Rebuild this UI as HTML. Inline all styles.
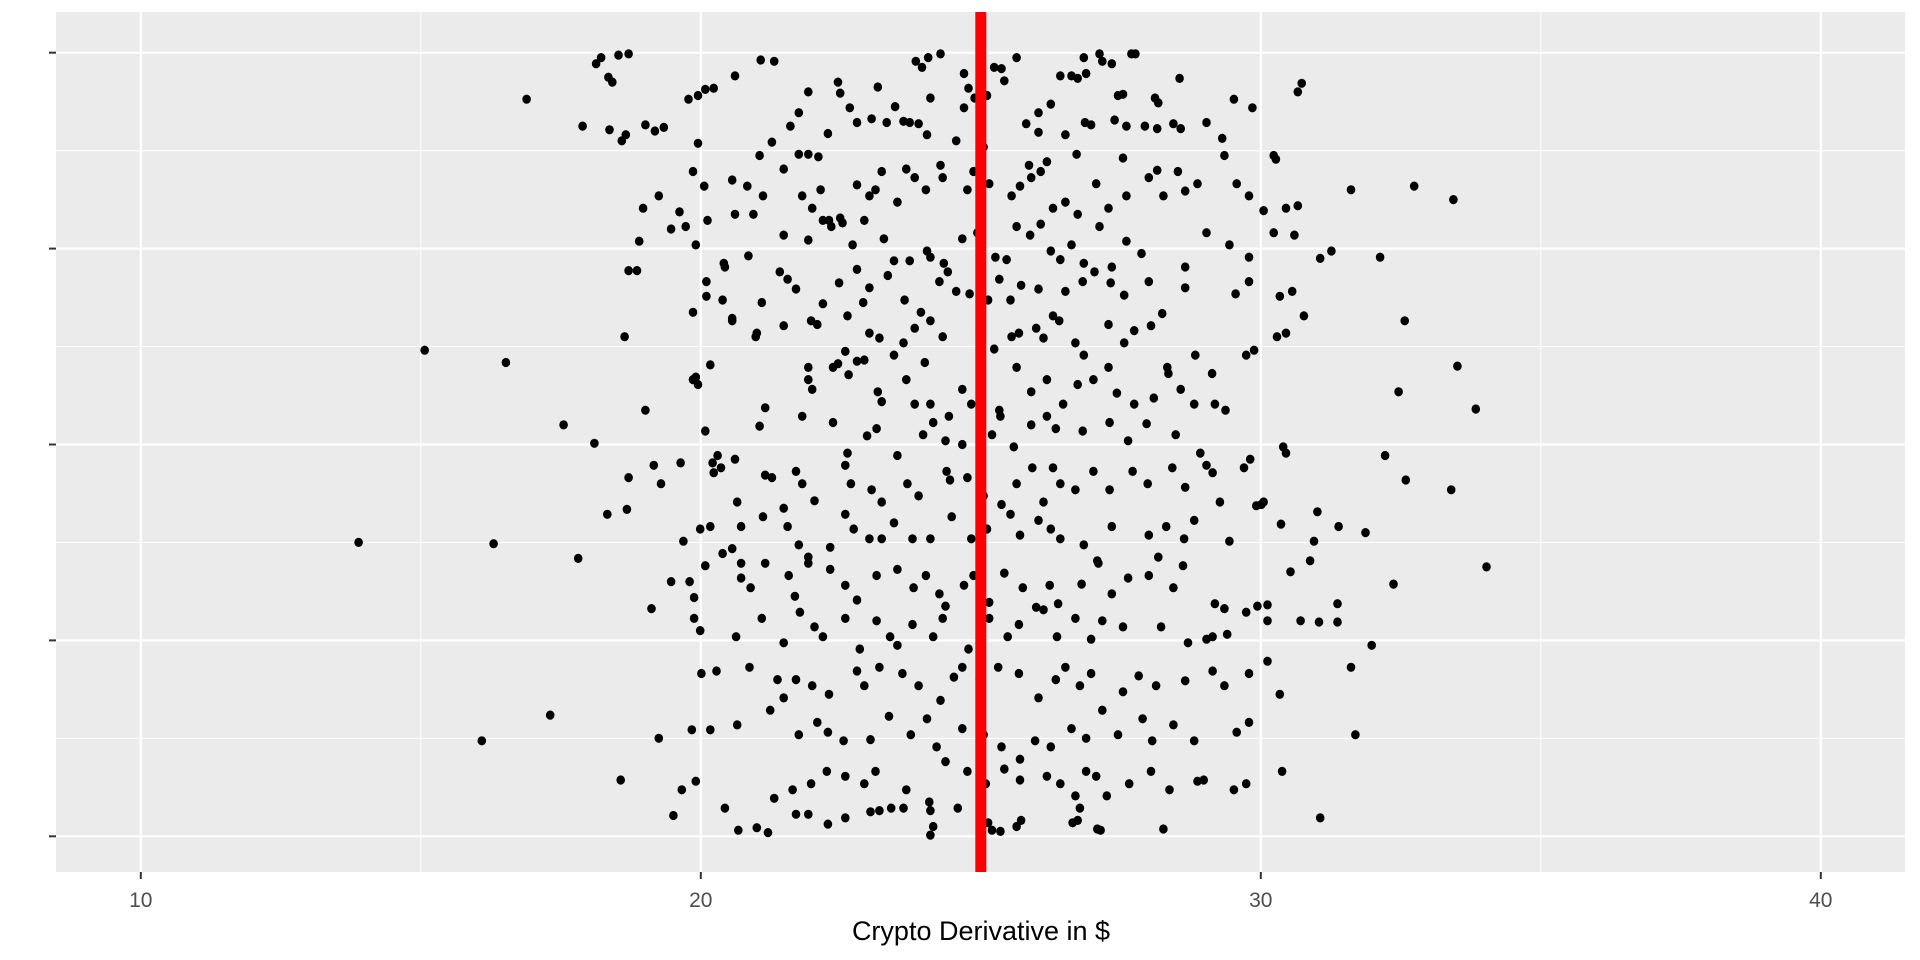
<!DOCTYPE html>
<html><head><meta charset="utf-8"><style>
html,body{margin:0;padding:0;background:#fff;}
svg{display:block;font-family:"Liberation Sans",Arial,sans-serif;}
</style></head><body>
<svg id="chart" width="1920" height="960" viewBox="0 0 1920 960" xmlns="http://www.w3.org/2000/svg">
<rect x="56" y="12" width="1849" height="860" fill="#EBEBEB"/>
<g id="grid"></g>
<g id="pts"></g>
<g id="ref"></g>
<g id="axes"></g>
<text x="981" y="940" font-size="27" text-anchor="middle" fill="#000">Crypto Derivative in $</text>
</svg>
<script>
const xTicks = [10, 20, 30, 40];
const xMinor = [15, 25, 35];
const yTicks = [0, 160, 320, 480, 640];
const yMinor = [80, 240, 400, 560];
const refValue = [25];
const xVals = [18.13,18.22,18.35,18.42,18.53,18.71,21.07,21.31,23.84,23.95,24.06,24.28,24.70,25.24,25.64,26.84,27.12,27.17,27.34,27.69,27.76,25.37,25.02,
16.89,20.08,20.23,20.61,21.92,22.45,22.49,23.16,23.47,24.78,24.89,25.11,26.42,26.62,26.73,26.88,27.45,27.54,28.11,28.17,28.55,29.52,30.73,30.66,19.95,19.78,21.75,22.66,23.62,23.89,24.10,24.70,25.42,26.03,26.25,26.86,29.85,
17.89,18.37,18.59,18.66,19.01,19.18,19.34,19.95,21.05,21.27,21.60,21.75,21.92,22.10,22.27,22.79,23.05,23.32,23.73,24.04,24.28,24.56,25.05,25.81,26.03,26.51,26.71,26.97,27.39,27.60,27.93,28.15,28.44,28.57,29.03,29.31,29.35,30.23,30.27,25.86,26.18,27.54,28.15,
18.97,19.25,19.62,19.86,20.06,20.56,20.83,21.11,21.48,21.81,21.99,22.14,22.29,22.79,23.01,23.12,23.23,23.51,23.67,23.82,24.02,24.32,24.76,24.87,25.15,25.55,25.70,25.90,26.07,26.29,26.51,26.73,27.06,27.28,27.60,28.00,28.26,28.52,28.65,28.87,29.57,29.79,30.05,30.45,30.66,31.61,32.74,33.44,20.12,20.61,20.94,22.49,
18.90,19.47,19.73,19.91,20.41,20.85,21.48,21.92,22.18,22.33,22.53,22.71,22.92,23.27,23.45,23.73,24.04,24.10,24.34,24.67,24.94,25.26,25.46,25.64,25.88,26.07,26.25,26.42,26.62,26.84,27.12,27.34,27.60,27.87,28.65,29.03,29.44,29.79,30.23,30.60,31.06,31.26,32.13,18.71,20.10,20.43,21.41,22.79,
18.86,19.86,20.10,20.39,20.56,21.09,21.55,21.70,21.97,22.18,22.47,22.62,22.90,23.01,23.34,23.64,23.93,24.26,24.41,24.56,24.80,25.13,25.33,25.53,25.72,26.03,26.29,26.51,26.82,27.03,27.32,27.56,28.00,28.24,28.65,29.55,29.79,30.34,30.56,32.57,21.00,21.48,
18.64,15.07,16.52,20.56,20.98,22.08,22.58,22.79,23.01,23.19,23.45,23.62,23.82,24.10,24.32,24.98,25.24,25.55,25.68,25.99,26.12,26.40,26.69,26.84,27.28,27.56,27.74,28.04,28.33,28.83,29.13,29.74,29.88,30.29,30.45,30.77,33.51,19.91,20.17,21.92,22.45,22.92,24.00,
19.01,19.86,19.95,21.15,21.92,21.99,22.36,22.64,23.16,23.23,23.67,23.82,24.10,24.43,24.67,24.83,25.33,25.64,25.90,26.18,26.47,26.73,27.01,27.28,27.43,27.74,28.09,28.35,28.57,28.81,29.18,29.37,32.46,33.84,17.55,18.10,20.08,
21.05,21.81,22.36,22.62,22.97,23.14,23.51,23.97,24.15,24.37,24.67,25.20,25.35,25.59,25.90,26.18,26.34,26.82,27.30,27.63,27.96,28.48,28.92,29.81,30.40,30.45,32.22,19.64,20.21,20.30,
18.71,19.16,19.29,20.23,20.36,20.61,21.15,21.27,21.70,21.81,22.03,22.58,22.68,23.05,23.23,23.69,23.89,24.39,24.45,24.76,25.05,25.37,25.64,25.92,26.12,26.29,26.42,26.69,27.01,27.30,27.71,27.98,28.42,28.65,29.03,29.14,29.27,29.70,29.92,30.05,32.59,33.40,18.33,18.68,20.65,21.11,21.48,
19.69,19.99,20.17,20.39,20.56,20.72,21.15,21.55,21.75,21.92,22.31,22.58,22.73,23.01,23.23,23.45,23.78,24.10,24.48,24.83,25.11,25.53,25.70,26.03,26.25,26.42,26.84,27.08,27.34,28.00,28.31,28.63,28.81,29.44,30.01,30.36,30.95,31.39,31.87,31.01,13.89,16.30,17.81,20.72,19.47,
19.80,20.08,20.72,20.89,21.57,21.68,21.92,22.31,22.58,22.79,23.14,23.51,23.80,24.02,24.26,24.37,24.70,24.87,25.15,25.42,25.75,25.99,26.23,26.38,26.80,27.10,27.34,27.63,28.00,28.17,28.44,28.61,29.18,29.35,30.12,30.53,30.88,31.37,32.37,34.03,19.12,19.88,
19.88,19.99,20.63,21.09,21.48,21.77,22.03,22.18,22.58,22.84,23.14,23.38,23.51,23.78,24.15,24.32,24.78,25.15,25.48,25.68,26.12,26.36,26.69,26.97,27.17,27.54,28.22,28.70,29.03,29.14,29.40,29.74,29.94,30.12,30.71,31.04,31.37,31.98,
20.01,20.28,20.87,21.37,21.48,21.70,21.99,22.29,22.79,22.92,23.19,23.60,23.89,24.28,24.52,24.67,24.98,25.31,25.68,26.03,26.34,26.51,26.77,26.97,27.54,27.82,28.13,28.65,29.14,29.35,29.79,30.12,30.34,31.61,
17.31,19.84,20.17,20.65,21.24,21.75,22.08,22.27,22.55,23.03,23.36,23.75,24.04,24.21,24.67,25.05,25.37,25.70,25.97,26.25,26.62,26.88,27.17,27.45,27.89,28.06,28.44,28.81,29.57,29.79,31.69,16.09,19.25,
18.57,19.66,19.91,21.31,21.64,21.97,22.25,22.58,22.92,23.12,23.67,24.08,24.37,24.76,25.09,25.42,25.70,26.18,26.42,26.69,26.88,27.06,27.65,28.04,28.37,28.87,28.98,29.52,29.74,30.38,
19.51,20.43,20.67,21.00,21.20,21.70,21.92,22.27,22.58,23.03,23.19,23.40,23.62,24.10,24.15,24.59,25.13,25.20,25.35,25.64,25.72,26.64,26.73,27.08,27.14,28.26,31.06,26.77,27.25,24.10];
const yVals = [631,636,620,616,638,639,634,633,633,628,636,639,623,628,636,636,639,633,631,639,639,627,627,
602,610,611,621,608,616,607,612,596,611,603,605,621,621,619,623,605,606,603,599,619,602,615,608,605,602,591,595,584,582,603,595,617,591,598,583,595,
580,577,568,573,581,576,579,566,556,567,580,557,557,555,574,583,586,583,583,573,548,568,563,582,575,573,557,581,585,580,580,578,582,578,583,570,556,556,553,548,551,554,544,
513,523,510,543,531,536,531,523,545,523,513,528,503,532,523,528,543,518,545,538,528,538,528,543,533,523,531,538,543,513,518,508,533,513,523,538,523,543,527,533,533,523,511,513,515,528,531,520,503,508,508,505,
486,496,498,483,468,474,491,487,503,498,501,483,503,488,470,470,478,473,468,488,493,473,471,498,491,500,478,471,483,468,498,465,486,476,465,493,483,473,493,491,472,478,473,462,453,465,461,463,
462,428,441,438,423,436,455,447,421,435,452,425,436,448,458,438,428,453,461,445,443,438,455,438,450,447,425,445,453,461,452,442,453,427,448,443,453,441,445,421,411,417,
408,397,387,421,408,418,396,388,411,407,393,403,415,421,408,415,398,408,411,415,407,421,403,393,418,403,413,417,383,393,378,393,397,408,411,425,384,375,385,383,386,389,387,
348,373,369,350,373,365,383,377,363,355,373,353,353,343,365,353,348,383,363,373,353,369,373,383,362,353,358,378,365,353,353,348,363,349,336,321,331,
335,343,338,313,327,333,311,328,338,323,320,328,343,318,336,343,333,331,338,323,337,328,313,308,318,313,311,305,305,311,
293,303,288,297,301,308,295,293,298,288,274,303,288,283,273,288,278,298,291,293,278,271,288,301,273,301,288,283,298,283,298,288,301,285,303,297,273,301,270,273,291,283,263,267,273,261,268,
241,251,253,231,235,253,223,253,238,228,236,263,251,243,243,256,243,243,261,243,251,263,246,258,251,243,238,225,253,246,253,243,258,241,271,255,241,253,248,265,240,239,227,223,208,
208,221,211,203,213,196,223,218,205,193,213,218,203,213,198,188,205,213,191,215,203,187,205,190,206,223,198,211,213,228,203,221,190,186,189,216,225,190,206,220,186,195,
178,168,163,178,158,183,171,163,178,153,176,163,156,173,163,178,153,178,163,173,185,163,178,161,176,171,171,158,161,163,165,183,188,176,176,175,175,156,
133,135,138,128,113,128,123,116,135,123,138,133,123,111,130,138,128,138,133,113,128,138,123,133,118,131,123,127,135,123,133,143,116,138,
99,87,87,91,103,83,93,85,78,79,98,83,96,73,88,83,73,63,78,73,88,80,103,83,96,78,91,78,85,93,83,78,80,
46,38,45,31,38,43,53,49,43,53,38,28,61,53,43,55,46,49,43,33,53,49,43,53,38,45,46,38,43,53,
17,23,5,7,3,18,18,10,15,20,21,23,23,21,8,23,11,5,4,8,13,11,13,6,5,6,15,23,33,1];

const NS='http://www.w3.org/2000/svg';
const P={l:56,r:1905,t:12,b:872};
function sx(v){return 140.8+(v-10)*56;}
function sy(v){return 836.3-v*1.2244;}
function mk(tag,attrs,parent){const e=document.createElementNS(NS,tag);for(const k in attrs)e.setAttribute(k,attrs[k]);parent.appendChild(e);return e;}
const grid=document.getElementById('grid');
yMinor.forEach(v=>{const e=mk('line',{x1:P.l,x2:P.r,y1:sy(v),y2:sy(v),stroke:'#fff','stroke-width':1},grid);

});
xMinor.forEach(v=>{const e=mk('line',{x1:sx(v),x2:sx(v),y1:P.t,y2:P.b,stroke:'#fff','stroke-width':1},grid);

});
yTicks.forEach(v=>{const e=mk('line',{x1:P.l,x2:P.r,y1:sy(v),y2:sy(v),stroke:'#fff','stroke-width':2.2},grid);

});
xTicks.forEach(v=>{const e=mk('line',{x1:sx(v),x2:sx(v),y1:P.t,y2:P.b,stroke:'#fff','stroke-width':2.2},grid);

});
const pts=document.getElementById('pts');
for(let i=0;i<xVals.length;i++){
 const c=mk('ellipse',{cx:sx(xVals[i]).toFixed(1),cy:sy(yVals[i]).toFixed(1),rx:4.3,ry:4.6,fill:'#000'},pts);
 
 
}
const ref=document.getElementById('ref');
const rl=mk('line',{x1:sx(refValue[0]),x2:sx(refValue[0]),y1:P.t,y2:P.b,stroke:'#FF0000','stroke-width':11},ref);


const axes=document.getElementById('axes');
yTicks.forEach(v=>{const e=mk('line',{x1:49,x2:P.l,y1:sy(v),y2:sy(v),stroke:'#333','stroke-width':2},axes);

});
xTicks.forEach(v=>{const e=mk('line',{x1:sx(v),x2:sx(v),y1:P.b,y2:P.b+7,stroke:'#333','stroke-width':2},axes);


const t=mk('text',{x:sx(v),y:907,'font-size':21,'text-anchor':'middle',fill:'#4D4D4D'},axes);
t.textContent=String(v);

});
</script>
</body></html>
